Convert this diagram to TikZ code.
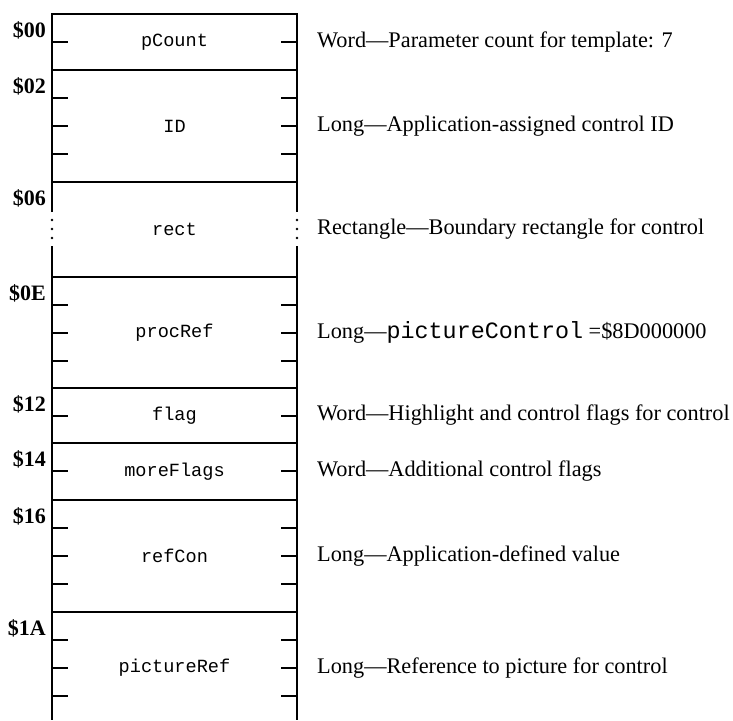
\documentclass[tikz,border=0pt]{standalone}
\usepackage{fontspec}
\setmainfont{Liberation Serif}
\setmonofont{Liberation Mono}
\tikzset{
    fld/.style={font=\fontsize{18.6}{20}\selectfont\ttfamily, inner sep=0pt},
    offs/.style={font=\fontsize{22}{24}\selectfont\bfseries, anchor=base east, inner sep=0pt},
    desc/.style={font=\fontsize{22.3}{24}\selectfont, anchor=west, inner sep=0pt},
    edge/.style={line width=2.4pt},
    sep/.style={line width=2pt},
    btick/.style={line width=2pt},
}
\newcommand{\mono}[1]{{\fontsize{23.4}{24}\selectfont\ttfamily #1}}

\begin{document}
\begin{tikzpicture}[x=1pt, y=-1pt]
    \useasboundingbox (0,0) rectangle (733,720);
    % fields: top/bottom/name/offset/description
    \foreach \t/\b/\nm/\lbl/\txt in {
        14/70/pCount/\$00/{Word—Parameter count for template: 7},
        70/182/ID/\$02/{Long—Application-assigned control ID},
        182/277/rect/\$06/{Rectangle—Boundary rectangle for control},
        277/388/procRef/\$0E/{Long—\mono{pictureControl} =\$8D000000},
        388/443/flag/\$12/{Word—Highlight and control flags for control},
        443/500/moreFlags/\$14/{Word—Additional control flags},
        500/612/refCon/\$16/{Long—Application-defined value},
        612/724/pictureRef/\$1A/{Long—Reference to picture for control}} {
        \node[fld] (\nm) at (174.5, {(\t+\b)/2}) {\nm};
        \node[offs] (off-\nm) at (46, \t+23) {\lbl};
        \node[desc] (d-\nm) at (317, {(\t+\b)/2}) {\txt};
        \draw[sep] (52,\t) -- (297,\t);
    }
    % byte ticks
    \foreach \y in {42, 98, 126, 154, 305, 333, 361, 416, 471, 528, 556, 584, 640, 668, 696} {
        \draw[btick] (52,\y) -- (68,\y) (281,\y) -- (297,\y);
    }
    % outline, broken for rect
    \draw[edge] (52,212) -- (52,14) -- (297,14) -- (297,212);
    \draw[edge] (52,246) -- (52,720) (297,246) -- (297,720);
    \foreach \y in {220, 229, 238} {
        \fill (52,\y) circle (1.4) (297,\y) circle (1.4);
    }
\end{tikzpicture}
\end{document}
